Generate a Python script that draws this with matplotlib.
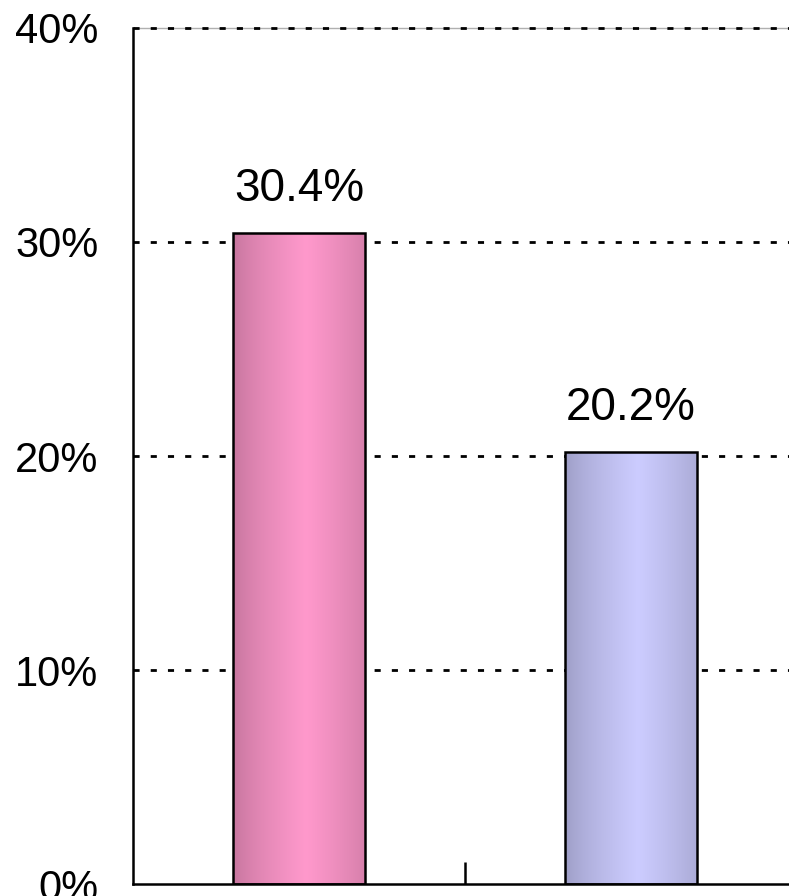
import numpy as np
import matplotlib
matplotlib.use('Agg')
import matplotlib.pyplot as plt
from matplotlib.colors import LinearSegmentedColormap
from matplotlib.ticker import FuncFormatter

# 数据 / data
categories = ['A', 'B']
values = [30.4, 20.2]
edge_colors = ['#C4749C', '#9C9CC4']
center_colors = ['#FF99CC', '#CCCCFF']
y_ticks = [0, 10, 20, 30, 40]

plt.rcParams['font.family'] = ['Liberation Sans', 'DejaVu Sans']

W, H = 789, 896
fig = plt.figure(figsize=(W / 100, H / 100), dpi=100)
ax = fig.add_axes([133 / W, 12 / H, 664 / W, 856 / H])

x = np.arange(len(categories))
bar_w = 0.40
bars = ax.bar(x, values, width=bar_w, color='none', edgecolor='black',
              linewidth=1.8, zorder=3)

# 横向渐变填充
# horizontal gradient fill
grad = np.linspace(0, 1, 256)
prof = 1 - np.abs(grad - 0.55) / 0.55
prof = np.clip(prof, 0, 1) ** 0.7
for b, c0, c1 in zip(bars, edge_colors, center_colors):
    cmap = LinearSegmentedColormap.from_list('g', [c0, c1])
    x0, w, h = b.get_x(), b.get_width(), b.get_height()
    im = ax.imshow(prof[None, :], cmap=cmap, aspect='auto',
                   extent=[x0, x0 + w, 0, h], zorder=2, vmin=0, vmax=1)
    im.set_clip_path(b)

for xi, v in zip(x, values):
    ax.annotate(f'{v:.1f}%', (xi, v), xytext=(0, 23), textcoords='offset points',
                ha='center', va='baseline', fontsize=33)

ax.set_xlim(-0.5, 1.5)
ax.set_ylim(0, 40)
ax.set_yticks(y_ticks)
ax.yaxis.set_major_formatter(FuncFormatter(lambda v, p: f'{v:.0f}%'))
ax.tick_params(axis='y', length=0, pad=25, labelsize=30)
ax.set_xticks([0.5])
ax.set_xticklabels([''])
ax.tick_params(axis='x', direction='in', length=16, width=1.8)

ax.spines['top'].set_color('#b0b0b0')
ax.spines['top'].set_linewidth(1.0)
ax.spines['top'].set_zorder(0.5)
for s in ['left', 'bottom']:
    ax.spines[s].set_linewidth(1.8)
ax.spines['right'].set_visible(False)

# 虚线网格（40% 那条画在顶边之上）
# dotted grid (the 40% one drawn over the top edge)
for yt in y_ticks[1:]:
    ax.axhline(yt, linestyle=(0, (2.2, 4)), color='black', linewidth=2.0,
               zorder=1, clip_on=False)

fig.savefig('out.png', dpi=100)
